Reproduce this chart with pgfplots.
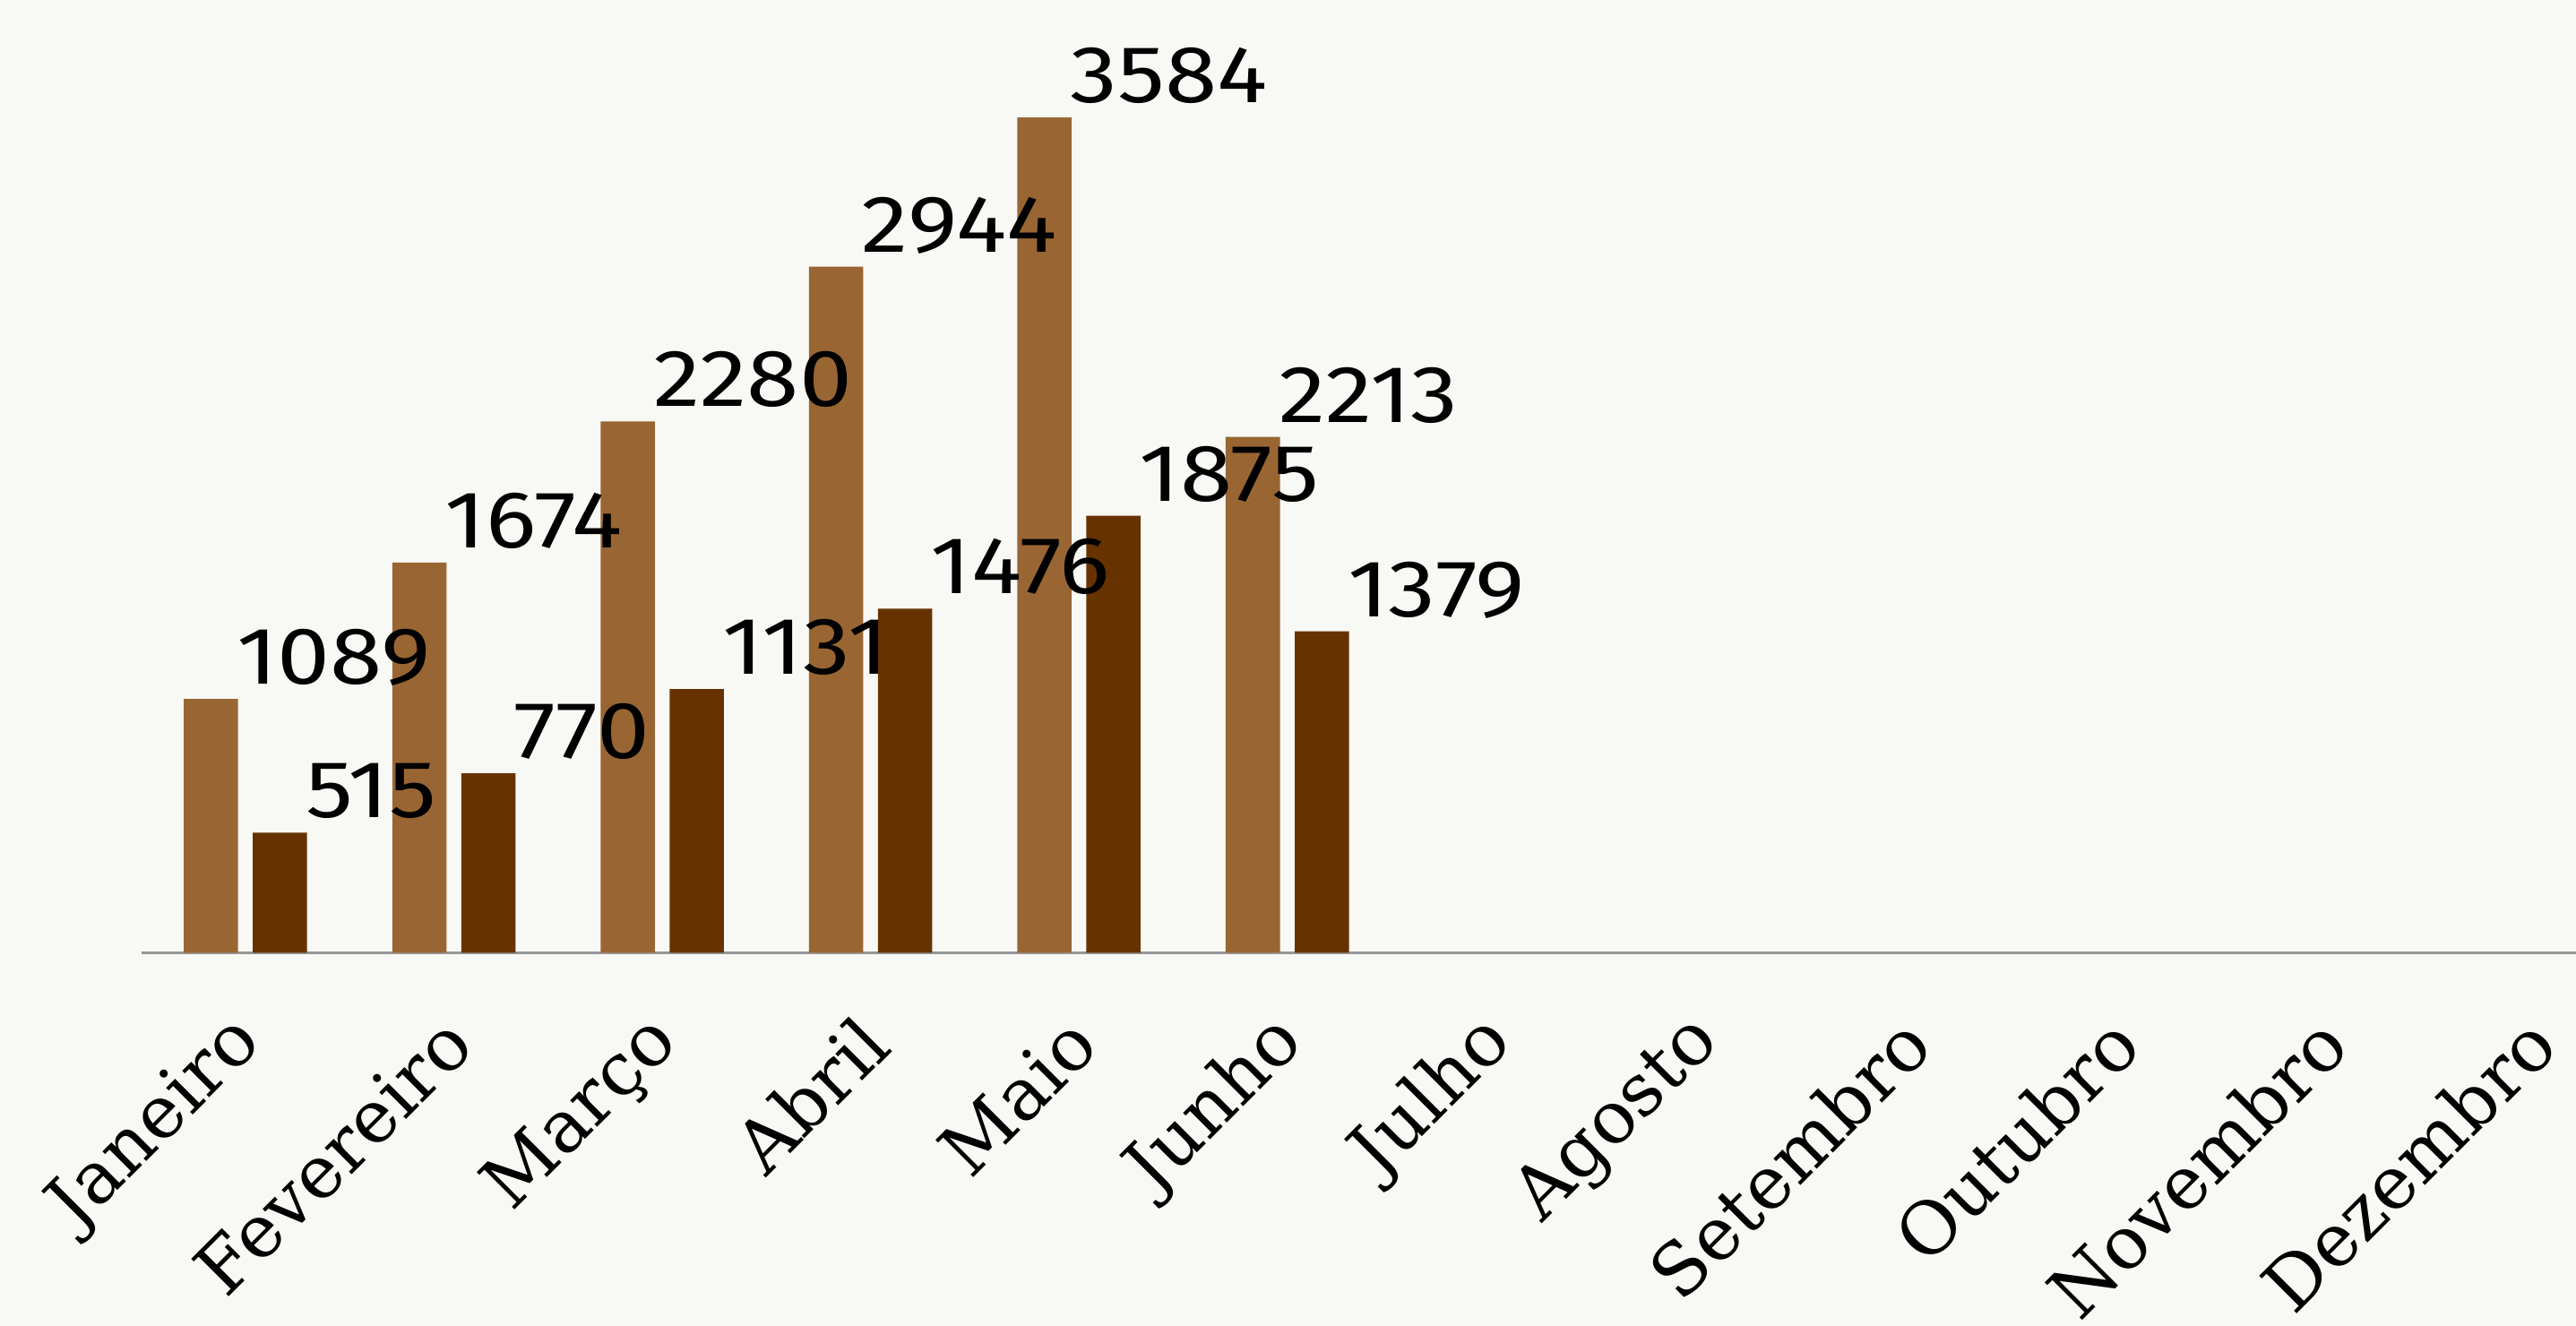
\documentclass[border=0pt]{standalone}
\usepackage{fontspec}
\setmainfont{Fira Sans}
\newfontfamily\tickfont{DejaVu Serif}
\newfontfamily\numfont[FakeStretch=1.17]{Fira Sans}
\usepackage{pgfplots}
\pgfplotsset{compat=1.18}
\definecolor{bg}{RGB}{248,248,245}
\definecolor{lightb}{RGB}{153,102,51}
\definecolor{darkb}{RGB}{102,51,0}
\definecolor{axisgray}{RGB}{150,150,150}
\begin{document}
\begin{tikzpicture}
\fill[bg] (0,0) rectangle (15.68,8.07);
\begin{axis}[
  at={(0.86cm,2.27cm)}, anchor=south west,
  scale only axis,
  width=15.22cm, height=5.676cm,
  xmin=-0.5, xmax=11.5,
  ymin=0, ymax=4000,
  axis y line=none,
  axis x line=bottom,
  x axis line style={-, draw=axisgray, line width=0.4pt},
  major tick length=0pt,
  xtick={0,1,2,3,4,5,6,7,8,9,10,11},
  xticklabels={Janeiro,Fevereiro,Março,Abril,Maio,Junho,Julho,Agosto,Setembro,Outubro,Novembro,Dezembro},
  xticklabel style={xshift=0.03cm, yshift=-0.47cm, rotate=45, anchor=east, inner sep=0pt, font=\tickfont\fontsize{12.6}{15}\selectfont},
  ybar, bar width=0.33cm,
  /pgf/number format/.cd, 1000 sep={}, assume math mode=true, fixed, precision=0,
  /pgfplots/.cd,
  nodes near coords,
  every node near coord/.append style={anchor=base west, inner sep=0pt, xshift=0.15cm, yshift=0.09cm, font=\numfont\fontsize{14}{16}\selectfont, text=black},
  clip=false,
]
\addplot[fill=lightb, draw=none, bar shift=-0.21cm] coordinates {(0,1089) (1,1674) (2,2280) (3,2944) (4,3584) (5,2213)};
\addplot[fill=darkb, draw=none, bar shift=0.21cm] coordinates {(0,515) (1,770) (2,1131) (3,1476) (4,1875) (5,1379)};
\end{axis}
\pgfresetboundingbox
\useasboundingbox (0,0) rectangle (15.68,8.07);
\end{tikzpicture}
\end{document}
